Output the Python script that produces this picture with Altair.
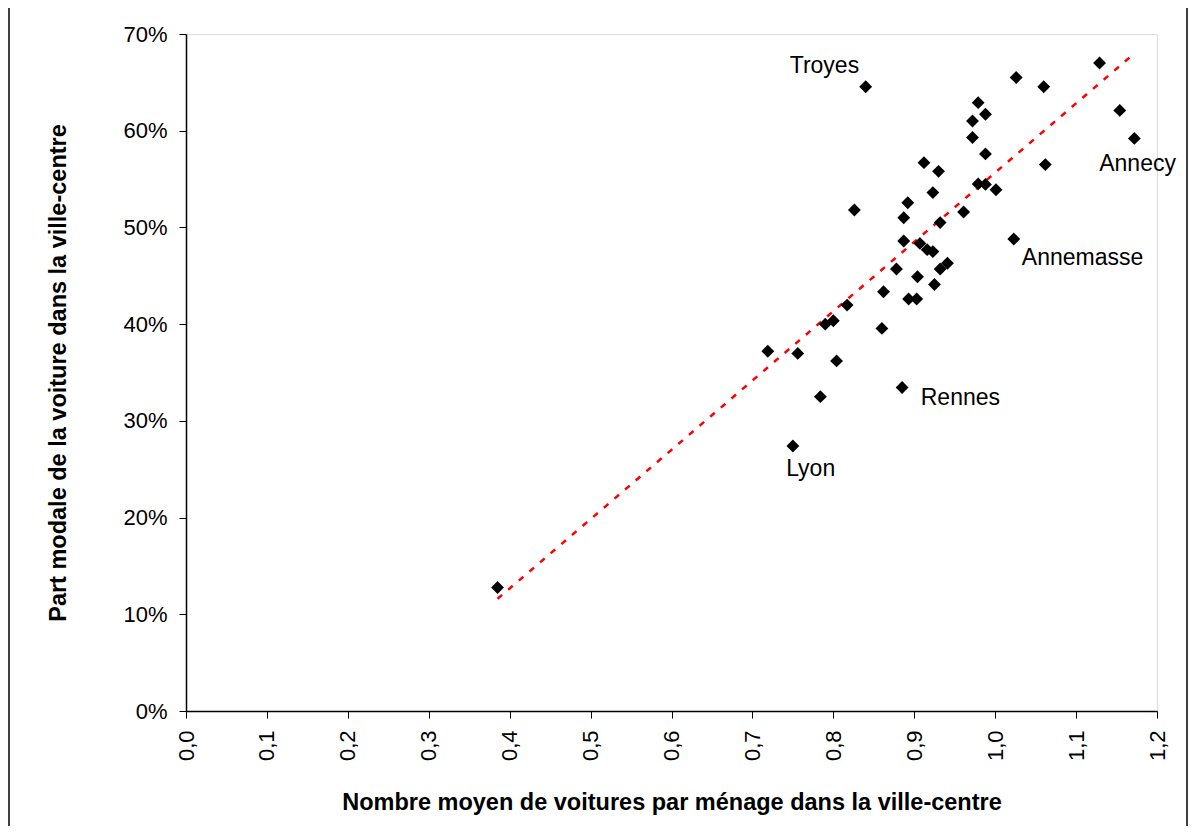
import altair as alt
import pandas as pd

# Scatter points: cars per household (x) vs car modal share (y)
cars = [0.385, 0.840, 1.026, 1.129, 1.060, 0.979, 0.988, 1.154, 0.972, 0.972,
        1.172, 0.988, 1.062, 0.912, 0.930, 0.979, 0.988, 1.001, 0.923, 0.826,
        0.892, 0.961, 0.887, 0.932, 1.023, 0.887, 0.907, 0.916, 0.923, 0.941,
        0.932, 0.878, 0.904, 0.925, 0.862, 0.893, 0.903, 0.817, 0.790, 0.800,
        0.860, 0.719, 0.756, 0.804, 0.784, 0.885, 0.750]
share = [0.1277, 0.6455, 0.655, 0.670, 0.6455, 0.629, 0.617, 0.621, 0.610, 0.593,
         0.592, 0.576, 0.565, 0.567, 0.558, 0.545, 0.5445, 0.539, 0.536, 0.518,
         0.5255, 0.516, 0.510, 0.505, 0.488, 0.486, 0.4835, 0.477, 0.475, 0.463,
         0.457, 0.457, 0.449, 0.441, 0.4335, 0.426, 0.426, 0.4197, 0.400, 0.4035,
         0.3956, 0.372, 0.3697, 0.362, 0.325, 0.3345, 0.274]

# Linear trendline endpoints
trend_x = [0.385, 1.168]
trend_y = [0.116, 0.677]

# City annotations (anchor in data units)
city_names = ["Troyes", "Annecy", "Annemasse", "Rennes", "Lyon"]
city_x = [0.789, 1.176, 1.108, 0.957, 0.772]
city_y = [0.667, 0.566, 0.468, 0.3235, 0.250]

x_ticks = [round(i * 0.1, 1) for i in range(13)]
y_ticks = [round(i * 0.1, 1) for i in range(8)]

pts = pd.DataFrame({"x": cars, "y": share})
trend = pd.DataFrame({"x": trend_x, "y": trend_y})
labels = pd.DataFrame({"name": city_names, "x": city_x, "y": city_y})

FONT = "Liberation Sans"

xscale = alt.Scale(domain=[0, 1.2], nice=False, zero=True)
yscale = alt.Scale(domain=[0, 0.7], nice=False)

xaxis = alt.Axis(
    values=x_ticks,
    labelExpr="replace(format(datum.value, '.1f'), '.', ',')",
    labelAngle=270,
    labelAlign="right",
    labelBaseline="middle",
    labelFontSize=22,
    labelFont=FONT,
    labelColor="black",
    labelPadding=12,
    tickSize=7,
    tickColor="black",
    domainColor="black",
    domainWidth=1.5,
    grid=False,
    title="Nombre moyen de voitures par ménage dans la ville-centre",
    titleFont=FONT,
    titleFontSize=23.5,
    titleFontWeight="bold",
    titleColor="black",
    titlePadding=30,
)
yaxis = alt.Axis(
    values=y_ticks,
    format=".0%",
    labelFontSize=22,
    labelFont=FONT,
    labelColor="black",
    labelPadding=12,
    tickSize=7,
    tickColor="black",
    domainColor="black",
    domainWidth=1.5,
    grid=False,
    title="Part modale de la voiture dans la ville-centre",
    titleFont=FONT,
    titleFontSize=23.5,
    titleFontWeight="bold",
    titleColor="black",
    titlePadding=52,
)

points = alt.Chart(pts).mark_point(
    shape="diamond", filled=True, color="black", size=165, opacity=1
).encode(
    x=alt.X("x:Q", scale=xscale, axis=xaxis),
    y=alt.Y("y:Q", scale=yscale, axis=yaxis),
)

trendline = alt.Chart(trend).mark_line(
    color="#ff0000", strokeWidth=2.5, strokeDash=[6, 8]
).encode(
    x=alt.X("x:Q", scale=xscale),
    y=alt.Y("y:Q", scale=yscale),
)

text = alt.Chart(labels).mark_text(
    font=FONT, fontSize=23, color="black", align="center", baseline="middle"
).encode(
    x=alt.X("x:Q", scale=xscale),
    y=alt.Y("y:Q", scale=yscale),
    text="name:N",
)

# Outer chart border (decorative frame, left and right edges visible)
frame = alt.Chart(pd.DataFrame({"k": [0]})).mark_rect(
    fill=None, stroke="black", strokeWidth=1.5
).encode(
    x=alt.value(-177), x2=alt.value(1001), y=alt.value(-60), y2=alt.value(860)
)

chart = alt.layer(frame, trendline, points, text).properties(
    width=971,
    height=677,
    autosize=alt.AutoSizeParams(type="none"),
    padding={"left": 178, "top": 26, "right": 32, "bottom": 115},
).configure_view(
    stroke="black", strokeWidth=1.5
).configure(background="white")

chart.save("out.html", embed_options={"renderer": "svg", "actions": False})
